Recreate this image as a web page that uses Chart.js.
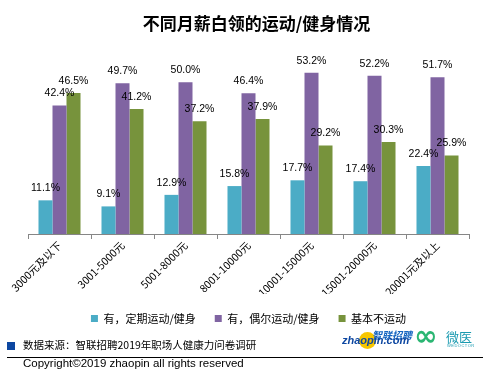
<!DOCTYPE html>
<html>
<head>
<meta charset="utf-8">
<script src="https://cdn.jsdelivr.net/npm/chart.js@4"></script>
<style>
  body { margin: 0; background: #fff; width: 491px; height: 373px; overflow: hidden; position: relative; }
  #chart { position: absolute; left: 0; top: 0; }
  .abs { position: absolute; white-space: nowrap; }
</style>
</head>
<body>
<canvas id="chart" width="491" height="373"></canvas>

<div class="abs" style="left:0;width:513px;top:10px;text-align:center;font:bold 17px 'Noto Sans CJK SC';color:#000;">不同月薪白领的运动/健身情况</div>

<!-- footer: source, logos, copyright -->
<div class="abs" style="left:7px;top:342px;width:8px;height:8px;background:#0d47a1;"></div>
<div class="abs" style="left:23px;top:337px;font:10.5px 'Noto Sans CJK SC';color:#000;">数据来源：智联招聘2019年职场人健康力问卷调研</div>
<div class="abs" style="left:359px;top:332px;width:17px;height:17px;border-radius:50%;background:#f7c600;"></div>
<div class="abs" style="left:372px;top:327px;font:italic bold 10px 'Noto Sans CJK SC';color:#1565c0;">智联招聘</div>
<div class="abs" style="left:342px;top:334px;font:italic bold 11px 'Liberation Sans';color:#0d47a1;">zhaopin.com</div>
<div class="abs" style="left:414px;top:322px;font:bold 28px 'DejaVu Sans';color:#2bb673;line-height:28px;">∞</div>
<div class="abs" style="left:446px;top:327px;font:13px 'Noto Sans CJK SC';color:#1a9ab0;">微医</div>
<div class="abs" style="left:447px;top:343px;font:4px 'Liberation Sans';color:#1a9ab0;letter-spacing:0.5px;">WEDOCTOR</div>
<div class="abs" style="left:7px;top:357px;width:476px;height:1px;background:#000;"></div>
<div class="abs" style="left:23px;top:357px;font:11.5px 'Liberation Sans';color:#000;">Copyright©2019 zhaopin all rights reserved</div>

<script>
// categories and values
const categories = ['3000元及以下', '3001-5000元', '5001-8000元', '8001-10000元', '10001-15000元', '15001-20000元', '20001元及以上'];
const seriesNames = ['有，定期运动/健身', '有，偶尔运动/健身', '基本不运动'];
const regularValues = [11.1, 9.1, 12.9, 15.8, 17.7, 17.4, 22.4];
const occasionalValues = [42.4, 49.7, 50.0, 46.4, 53.2, 52.2, 51.7];
const rarelyValues = [46.5, 41.2, 37.2, 37.9, 29.2, 30.3, 25.9];

const colors = ['#4bacc6', '#8064a2', '#77933c'];

// draw the percent above each bar
const valueLabels = {
    id: 'valueLabels',
    afterDatasetsDraw(chart) {
        const ctx = chart.ctx;
        ctx.save();
        ctx.font = '10.5px "Liberation Sans"';
        ctx.fillStyle = '#000';
        ctx.textAlign = 'center';
        ctx.textBaseline = 'alphabetic';
        chart.data.datasets.forEach((ds, i) => {
            chart.getDatasetMeta(i).data.forEach((bar, j) => {
                ctx.fillText(ds.data[j].toFixed(1) + '%', bar.x, bar.y - 9);
            });
        });
        ctx.restore();
    }
};

const ctx = document.getElementById('chart').getContext('2d');
const chart = new Chart(ctx, {
    type: 'bar',
    data: {
        labels: categories,
        datasets: [regularValues, occasionalValues, rarelyValues].map((vals, i) => ({
            label: seriesNames[i],
            data: vals,
            backgroundColor: colors[i],
            borderWidth: 0,
            categoryPercentage: 0.667,
            barPercentage: 1.0
        }))
    },
    options: {
        responsive: false,
        animation: false,
        devicePixelRatio: 1,
        layout: { padding: { left: 28, right: 22, top: 52, bottom: 39 } },
        plugins: {
            title: { display: false },
            legend: {
                position: 'bottom',
                labels: {
                    boxWidth: 7,
                    boxHeight: 7,
                    padding: 19,
                    color: '#000',
                    font: { family: 'Noto Sans CJK SC', size: 11 }
                }
            },
            tooltip: { enabled: false }
        },
        scales: {
            x: {
                grid: { drawOnChartArea: false, color: '#868686', tickLength: 5, offset: true },
                border: { color: '#868686' },
                ticks: {
                    autoSkip: false,
                    minRotation: 45,
                    maxRotation: 45,
                    padding: 0,
                    color: '#000',
                    font: { family: 'Noto Sans CJK SC', size: 10.5 }
                },
                afterFit(scale) { scale.height = 60; }
            },
            y: {
                display: false,
                min: 0,
                max: 60
            }
        }
    },
    plugins: [valueLabels]
});
</script>
</body>
</html>
